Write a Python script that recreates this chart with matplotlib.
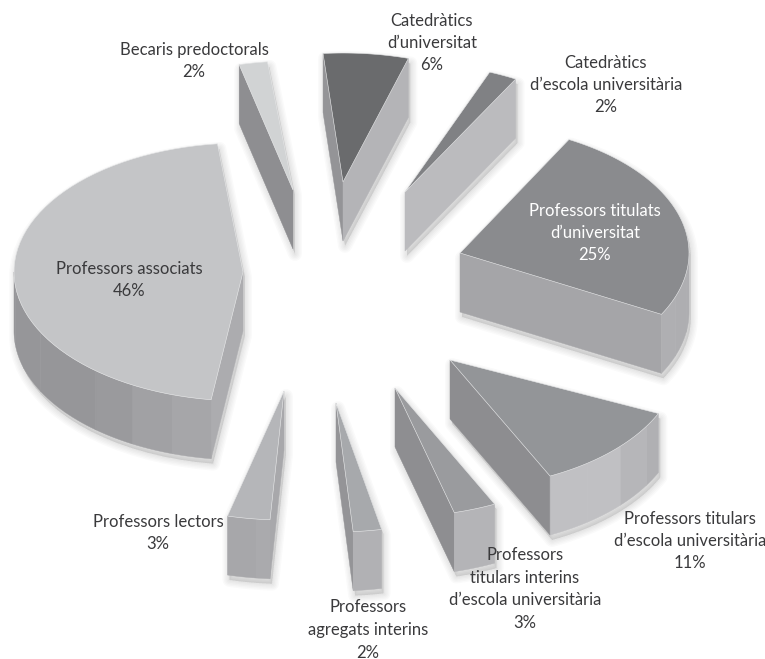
#!/usr/bin/env python3
"""Exploded 3D pie: teaching staff by category"""

import numpy as np
import matplotlib
matplotlib.use('Agg')
import matplotlib.pyplot as plt
from matplotlib.patches import Polygon

# Data
categories = ["Catedràtics\nd’universitat", "Catedràtics\nd’escola universitària",
              "Professors titulats\nd’universitat", "Professors titulars\nd’escola universitària",
              "Professors\ntitulars interins\nd’escola universitària", "Professors\nagregats interins",
              "Professors lectors", "Professors associats", "Becaris predoctorals"]
shares = [6, 2, 25, 11, 3, 2, 3, 46, 2]

# Styles: slice start angle (deg clockwise from top), explode offset, top colour, label placement
start_deg = [-5, 21.7, 28.4, 114.5, 154.2, 168.5, 183.5, 188, -13.6]
explode_x = [-2, 60, 115, 105, 50, -9, -61, -102, -52]
explode_y = [-110, -100, -39, 68, 96, 111, 99, -20, -102]
top_colors = ['#6a6b6d', '#808184', '#8a8b8e', '#939598', '#9a9b9e', '#a7a9ac', '#b5b6b9', '#c4c5c7', '#d1d3d4']
label_x = [432, 606, 595, 690, 525, 368, 158, 129, 194]
label_y = [43, 85, 233, 541, 589, 630, 533, 280, 61]
label_colors = ['#3a3a3c'] * 9
label_colors[2] = 'white'

CX, CY = 345, 292
RX, RY = 229, 129
DEPTH = 59
BAND = 11.0

# light level of a flat cut face / of the curved wall, by direction
side_ang = [80, 93, 106, 118, 145, 172, 190, 208, 235, 250, 270, 285]
side_lvl = [0xa5, 0xa8, 0xb4, 0xbb, 0xbf, 0xb3, 0xa9, 0xa6, 0x92, 0x8b, 0x97, 0x97]
arc_ang = [110, 125, 128, 135, 150, 156, 170, 188, 194, 200, 207, 215, 225, 290]
arc_lvl = [0xae, 0xb3, 0xb9, 0xc0, 0xc0, 0xb5, 0xb3, 0xa9, 0xa6, 0xa3, 0xa0, 0x9a, 0x96, 0x96]


def grey(level):
    v = int(level)
    return f'#{v:02x}{v:02x}{min(v + 3, 255):02x}'


def ell(ax_deg, ox, oy):
    a = np.radians(ax_deg)
    return np.array([ox + RX * np.sin(a), oy - RY * np.cos(a)])


def hull(pts):
    pts = sorted(map(tuple, pts))
    def half(seq):
        out = []
        for p in seq:
            while len(out) > 1:
                u, v = np.subtract(out[-1], out[-2]), np.subtract(p, out[-1])
                if u[0] * v[1] - u[1] * v[0] > 0:
                    break
                out.pop()
            out.append(p)
        return out[:-1]
    return np.array(half(pts) + half(pts[::-1]))


fig = plt.figure(figsize=(7.65, 6.59), dpi=100)
ax = fig.add_axes([0, 0, 1, 1])
ax.set_xlim(0, 765)
ax.set_ylim(659, 0)
ax.axis('off')

down = np.array([0, DEPTH])

# Soft shadows first
for s, a0, ex, ey in zip(shares, start_deg, explode_x, explode_y):
    ox, oy = CX + ex, CY + ey
    angs = np.linspace(a0, a0 + s * 3.6, 40)
    top = np.array([(ox, oy)] + [ell(a, ox, oy) for a in angs])
    shape = hull(np.vstack([top, top + down])) + np.array([2, 5])
    for lw in [10, 8, 6, 4, 2]:
        ax.add_patch(Polygon(shape, closed=True, facecolor='black', edgecolor='black',
                             alpha=0.018, linewidth=lw, joinstyle='round', zorder=1))

# Slices
for i, (s, a0, ex, ey, col) in enumerate(zip(shares, start_deg, explode_x, explode_y, top_colors)):
    ox, oy = CX + ex, CY + ey
    a1 = a0 + s * 3.6
    apex = np.array([ox, oy])
    c0, c1 = ell(a0, ox, oy), ell(a1, ox, oy)
    z = 2 + i * 0.01

    # cut faces, visible when the edge runs leftwards on screen (clockwise outline)
    if apex[0] > c0[0]:
        lvl = np.interp((a0 - 90) % 360, side_ang, side_lvl)
        ax.add_patch(Polygon([apex, c0, c0 + down, apex + down], closed=True, facecolor=grey(lvl),
                             edgecolor=grey(lvl), linewidth=0.3, zorder=z))
    if c1[0] > apex[0]:
        lvl = np.interp((a1 + 90) % 360, side_ang, side_lvl)
        ax.add_patch(Polygon([c1, apex, apex + down, c1 + down], closed=True, facecolor=grey(lvl),
                             edgecolor=grey(lvl), linewidth=0.3, zorder=z))

    # curved wall, split in flat-shaded bands
    edges = np.arange(np.ceil(a0 / BAND) * BAND, a1, BAND)
    edges = np.concatenate([[a0], edges[edges > a0], [a1]])
    for b0, b1 in zip(edges[:-1], edges[1:]):
        b0c, b1c = max(b0, 90), min(b1, 270)
        if b1c <= b0c:
            continue
        lvl = np.interp((b0c + b1c) / 2, arc_ang, arc_lvl)
        tops = np.array([ell(a, ox, oy) for a in np.linspace(b0c, b1c, 8)])
        ax.add_patch(Polygon(np.vstack([tops, tops[::-1] + down]), closed=True, facecolor=grey(lvl),
                             edgecolor=grey(lvl), linewidth=0.3, zorder=z + 0.001))

    # top face with its thin light rim
    arc = np.array([ell(a, ox, oy) for a in np.linspace(a0, a1, 60)])
    ax.add_patch(Polygon(np.vstack([apex, arc]), closed=True, facecolor=col, edgecolor='#e6e7e8',
                         linewidth=0.4, zorder=z + 0.002))

# Labels
for name, s, x, y, c in zip(categories, shares, label_x, label_y, label_colors):
    ax.text(x, y, f'{name}\n{s}%', ha='center', va='center', multialignment='center',
            fontsize=12, family='Lato', color=c, linespacing=1.5, zorder=5)

fig.savefig('out.png', dpi=100, facecolor='white')
